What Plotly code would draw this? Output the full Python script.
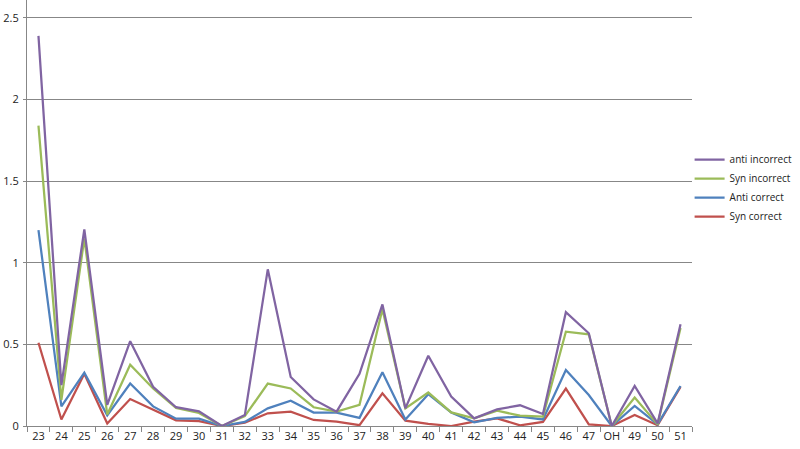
import plotly.graph_objects as go

categories = ["23", "24", "25", "26", "27", "28", "29", "30", "31", "32", "33", "34", "35", "36", "37",
              "38", "39", "40", "41", "42", "43", "44", "45", "46", "47", "OH", "49", "50", "51"]

anti_incorrect = [2.39, 0.25, 1.205, 0.13, 0.52, 0.24, 0.115, 0.09, 0.0, 0.067, 0.96, 0.30, 0.163, 0.088, 0.32,
                  0.745, 0.108, 0.43, 0.18, 0.047, 0.102, 0.127, 0.073, 0.697, 0.568, 0.0, 0.245, 0.016, 0.623]
syn_incorrect = [1.84, 0.16, 1.15, 0.07, 0.375, 0.23, 0.11, 0.08, 0.0, 0.06, 0.26, 0.23, 0.115, 0.088, 0.13,
                 0.715, 0.108, 0.205, 0.083, 0.047, 0.094, 0.063, 0.057, 0.578, 0.562, 0.0, 0.174, 0.01, 0.60]
anti_correct = [1.20, 0.12, 0.327, 0.065, 0.26, 0.12, 0.045, 0.045, 0.0, 0.025, 0.108, 0.155, 0.082, 0.082, 0.05,
                0.33, 0.04, 0.195, 0.083, 0.023, 0.05, 0.057, 0.04, 0.343, 0.19, 0.0, 0.123, 0.01, 0.245]
syn_correct = [0.51, 0.04, 0.32, 0.015, 0.165, 0.10, 0.035, 0.03, 0.0, 0.02, 0.078, 0.088, 0.037, 0.027, 0.005,
               0.20, 0.033, 0.013, 0.0, 0.027, 0.047, 0.004, 0.025, 0.229, 0.01, 0.0, 0.067, 0.005, 0.24]

series = [
    ("Syn correct", syn_correct, "#C0504D"),
    ("Anti correct", anti_correct, "#4F81BD"),
    ("Syn incorrect", syn_incorrect, "#9BBB59"),
    ("anti incorrect", anti_incorrect, "#8064A2"),
]

fig = go.Figure()
for name, vals, color in series:
    fig.add_trace(go.Scatter(x=categories, y=vals, name=name, mode="lines",
                             line=dict(color=color, width=2.25)))

fig.update_layout(
    width=800, height=449,
    margin=dict(l=27, r=108, t=0, b=23, autoexpand=False),
    paper_bgcolor="white", plot_bgcolor="white",
    font=dict(family="Open Sans, Liberation Sans, sans-serif", size=11, color="#222222"),
    legend=dict(xref="container", yref="container", x=0.862, xanchor="left", y=0.677, yanchor="top",
                traceorder="reversed", font=dict(size=10), itemwidth=30, tracegroupgap=0,
                bgcolor="rgba(0,0,0,0)"),
    xaxis=dict(type="category", showgrid=False, showline=True, linecolor="#878787", linewidth=1,
               ticks="outside", tickson="boundaries", ticklen=5, tickcolor="#878787", tickangle=0,
               range=[-0.5, len(categories) - 0.5], fixedrange=True, automargin=False),
    yaxis=dict(range=[0, 2.61], tickvals=[0, 0.5, 1, 1.5, 2, 2.5], ticktext=["0", "0.5", "1", "1.5", "2", "2.5"],
               showgrid=True, gridcolor="#878787", gridwidth=1, showline=True, linecolor="#878787",
               linewidth=1, zeroline=False, ticks="outside", ticklen=3, tickcolor="#878787",
               ticklabelstandoff=2, automargin=False),
)

fig.write_html("out.html")
